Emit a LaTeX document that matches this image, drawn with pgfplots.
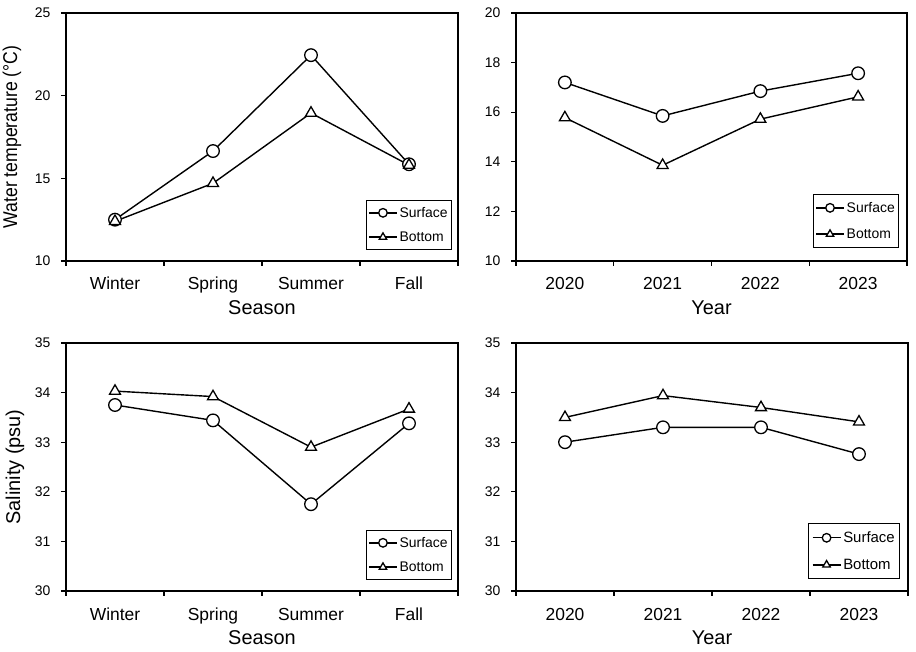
\documentclass[border=0pt]{standalone}
\usepackage{fontspec}
\setmainfont{Liberation Sans}
\usepackage{graphicx}
\usepackage{pgfplots}
\pgfplotsset{compat=1.18}
\pgfplotsset{
  panel/.style={
    scale only axis, width=392bp, height=248bp,
    xmin=0.5, xmax=4.5,
    xtick={0.5,1.5,2.5,3.5,4.5}, xticklabels={,,,,,},
    extra x ticks={1,2,3,4},
    extra x tick style={major tick length=0pt,
      xticklabel style={font=\fontsize{17.5}{20}\selectfont, anchor=base, yshift=-29bp}},
    tick align=outside, tick pos=left,
    major tick length=5bp,
    axis line style={line width=1.6bp},
    tick style={black, line width=1.3bp},
    yticklabel style={font=\fontsize{14}{16}\selectfont, xshift=-7bp},
    /pgf/number format/assume math mode=true,
    xlabel style={font=\fontsize{20}{24}\selectfont, at={(axis description cs:0.5,-0.1895)}, anchor=center},
    ylabel style={font=\fontsize{20}{24}\selectfont, anchor=center},
    legend style={font=\fontsize{14}{16}\selectfont, draw=black, line width=0.8bp,
      anchor=south east, inner xsep=2bp, inner ysep=5bp, row sep=9bp},
    legend cell align=left,
    legend image code/.code={\draw[mark repeat=2,mark phase=2,#1,mark size=4.3bp] plot coordinates {(0bp,0bp)(14bp,0bp)(28bp,0bp)};},
  },
  surf/.style={black, line width=1.4bp, mark=*, mark size=6.3bp, mark options={fill=white, draw=black, line width=1.3bp, solid}},
  bott/.style={black, line width=1.4bp, mark=triangle*, mark size=6.3bp, mark options={fill=white, draw=black, line width=1.3bp, solid}},
}
\begin{document}
\begin{tikzpicture}
\useasboundingbox (0,0) rectangle (916bp,652bp);
% Panel 1
\begin{axis}[panel, at={(66bp,391bp)}, anchor=south west,
  ymin=10, ymax=25, ytick={10,15,20,25},
  extra x tick labels={Winter,Spring,Summer,Fall},
  xlabel={Season},
  ylabel={\scalebox{0.885}[1]{Water temperature (°C)}},
  ylabel style={at={(axis description cs:-0.138,0.5)}},
  legend style={at={(axis description cs:0.985,0.044)}}]
\addplot[surf] coordinates {(1,12.5) (2,16.65) (3,22.45) (4,15.85)};
\addlegendentry{Surface}
\addplot[bott] coordinates {(1,12.4) (2,14.7) (3,18.95) (4,15.8)};
\addlegendentry{Bottom}
\end{axis}
% Panel 2
\begin{axis}[panel, at={(516bp,391bp)}, anchor=south west, width=391bp,
  ymin=10, ymax=20, ytick={10,12,14,16,18,20},
  extra x tick labels={2020,2021,2022,2023},
  xlabel={Year},
  legend style={at={(axis description cs:0.98,0.052)}, row sep=11bp, inner ysep=6bp}]
\addplot[surf] coordinates {(1,17.2) (2,15.85) (3,16.85) (4,17.57)};
\addlegendentry{Surface}
\addplot[bott] coordinates {(1,15.78) (2,13.86) (3,15.72) (4,16.62)};
\addlegendentry{Bottom}
\end{axis}
% Panel 3
\begin{axis}[panel, at={(66bp,61bp)}, anchor=south west,
  ymin=30, ymax=35, ytick={30,31,32,33,34,35},
  extra x tick labels={Winter,Spring,Summer,Fall},
  xlabel={Season},
  ylabel={Salinity (psu)},
  ylabel style={at={(axis description cs:-0.130,0.5)}},
  legend style={at={(axis description cs:0.985,0.044)}}]
\addplot[surf] coordinates {(1,33.75) (2,33.44) (3,31.75) (4,33.38)};
\addlegendentry{Surface}
\addplot[bott] coordinates {(1,34.03) (2,33.92) (3,32.9) (4,33.67)};
\addlegendentry{Bottom}
\end{axis}
% Panel 4
\begin{axis}[panel, at={(516bp,61bp)}, anchor=south west,
  ymin=30, ymax=35, ytick={30,31,32,33,34,35},
  extra x tick labels={2020,2021,2022,2023},
  xlabel={Year},
  legend style={at={(axis description cs:0.98,0.048)}, font=\fontsize{15}{17}\selectfont, inner xsep=3bp, inner ysep=6bp, row sep=11bp}]
\addplot[surf] coordinates {(1,33.0) (2,33.3) (3,33.3) (4,32.76)};
\addlegendentry{Surface}
\addplot[bott] coordinates {(1,33.5) (2,33.94) (3,33.7) (4,33.41)};
\addlegendentry{Bottom}
\end{axis}
\end{tikzpicture}
\end{document}
